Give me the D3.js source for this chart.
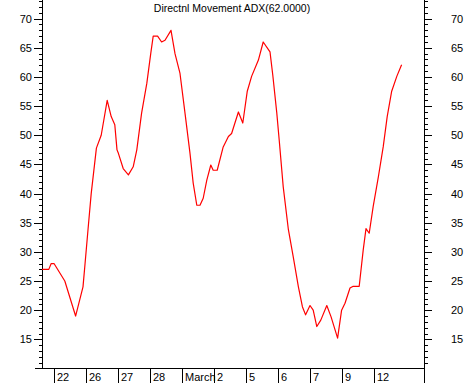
<!DOCTYPE html>
<html>
<head>
<meta charset="utf-8">
<script src="https://cdn.jsdelivr.net/npm/d3@7"></script>
<style>
  html, body { margin: 0; padding: 0; background: #fff; }
  svg { display: block; }
  text { font-family: "Liberation Sans", Arial, sans-serif; font-size: 11px; fill: #000; }
</style>
</head>
<body>
<svg id="chart" width="465" height="383"></svg>
<script>
// ---- data (position in bar units, ADX value) ----
const title = "Directnl Movement ADX(62.0000)";
const positions = [0, 1.7, 2.3, 3, 5.7, 8.4, 10.25, 10.7, 11.5, 12.3, 13.6, 14.8, 16.3, 17.3, 18.2, 18.75,
  19.1, 20.3, 21.6, 22.8, 23.7, 24.9, 26.2, 27.2, 27.8, 28.9, 29.9, 30.75, 32.25, 33.25, 34.5, 35.75,
  37, 37.8, 38.7, 39.5, 40.3, 41.2, 42.2, 42.8, 43.8, 45.3, 46.6, 47.4, 49.1, 50.2, 51.3, 52.4, 54.1,
  55.3, 57, 57.7, 58.7, 59.3, 60.3, 61.6, 62.8, 64.1, 65.1, 65.9, 67, 67.8, 68.7, 69.7, 71.2, 72.25,
  73.9, 74.9, 75.75, 77, 77.8, 79.3, 80.3, 81, 81.8, 82.8, 84.1, 85.3, 86.3, 87.4, 88.7, 89.9];
const adx = [27, 27, 28, 28, 25, 19, 24, 27.5, 33.8, 40, 47.8, 50, 56, 53.2, 51.8, 47.5,
  46.9, 44.3, 43.2, 44.6, 47.5, 53.8, 58.9, 64.1, 67, 67, 66, 66.3, 68, 64, 60.6, 53.8,
  46.9, 41.8, 38, 38, 39.2, 42.3, 44.9, 44, 44, 48, 49.8, 50.3, 54, 52.1, 57.5, 60.1, 62.9,
  66, 64.3, 60.3, 53.8, 49.2, 41.2, 33.8, 29.2, 24, 20.6, 19.2, 20.8, 20, 17.2, 18.3, 20.8, 18.9,
  15.2, 20, 21.2, 23.8, 24.1, 24.1, 30.3, 34, 33.2, 37.8, 42.9, 48, 53.2, 57.5, 60.1, 62.1];
const xTickPositions = [3, 11, 19, 27, 35, 43, 51, 59, 67, 75, 83];
const xTickLabels = ["22", "26", "27", "28", "March", "2", "5", "6", "7", "9", "12"];
const yMajorTicks = [15, 20, 25, 30, 35, 40, 45, 50, 55, 60, 65, 70];
const yMinorTicks = d3.range(11, 74);

// ---- layout ----
const W = 465, H = 383;
const plotLeft = 42, plotRight = 424, plotTop = 0, plotBottom = 368.5;
const svg = d3.select("#chart");

const x = d3.scaleLinear().domain([0, 95.5]).range([plotLeft, plotRight]);
const y = d3.scaleLinear().domain([10, 73.2]).range([plotBottom, plotTop]);

const g = svg.append("g").attr("shape-rendering", "crispEdges");

// left axis line
g.append("line").attr("x1", plotLeft).attr("x2", plotLeft).attr("y1", 0).attr("y2", plotBottom)
  .attr("stroke", "#000");
// right axis line (extends to bottom)
g.append("line").attr("x1", plotRight).attr("x2", plotRight).attr("y1", 0).attr("y2", H)
  .attr("stroke", "#000");
// bottom axis line
g.append("line").attr("x1", 35).attr("x2", plotRight).attr("y1", plotBottom).attr("y2", plotBottom)
  .attr("stroke", "#000");

// ticks
yMinorTicks.forEach(v => {
  const yy = Math.round(y(v)) + 0.5;
  const major = v % 5 === 0;
  g.append("line").attr("x1", plotLeft - (major ? 8 : 3)).attr("x2", plotLeft)
    .attr("y1", yy).attr("y2", yy).attr("stroke", "#000");
  g.append("line").attr("x1", plotRight).attr("x2", plotRight + (major ? 8 : 4))
    .attr("y1", yy).attr("y2", yy).attr("stroke", "#000");
});

// y labels
yMajorTicks.forEach(v => {
  const yy = y(v);
  svg.append("text").attr("x", 32).attr("y", yy + 4).attr("text-anchor", "end").text(v);
  svg.append("text").attr("x", 451).attr("y", yy + 4).attr("text-anchor", "start").text(v);
});

// x ticks
xTickPositions.forEach((p, i) => {
  const xx = Math.round(x(p)) + 0.5;
  g.append("line").attr("x1", xx).attr("x2", xx).attr("y1", plotBottom).attr("y2", H)
    .attr("stroke", "#000");
  svg.append("text").attr("x", xx + 2.5).attr("y", 381).text(xTickLabels[i]);
});

// title
svg.append("text").attr("x", 232).attr("y", 12).attr("text-anchor", "middle")
  .style("font-size", "10.5px").text(title);

// ADX line
const line = d3.line().x((d, i) => x(positions[i])).y(d => y(d));
svg.append("path").datum(adx)
  .attr("d", line)
  .attr("fill", "none")
  .attr("stroke", "#ff0000")
  .attr("stroke-width", 1.2)
  .attr("stroke-linejoin", "round");
</script>
</body>
</html>
